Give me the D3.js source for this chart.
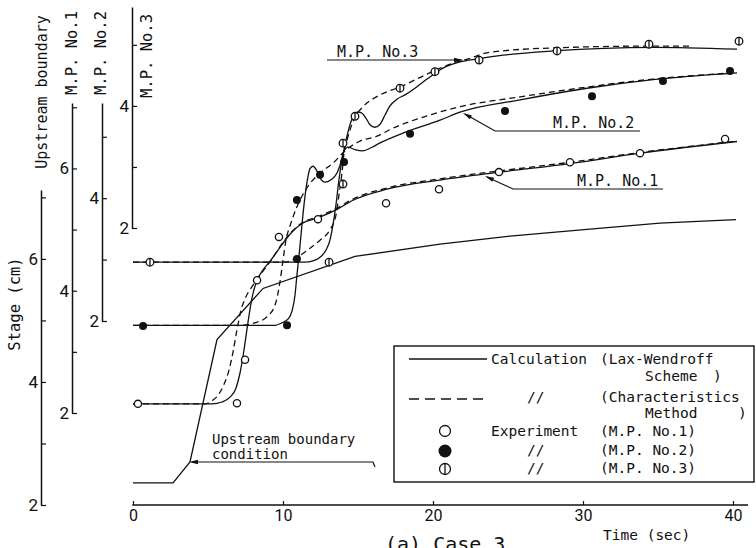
<!DOCTYPE html>
<html><head><meta charset="utf-8">
<script src="https://cdn.jsdelivr.net/npm/d3@7"></script>
<style>
html,body{margin:0;padding:0;background:#fff;}
svg{display:block;}
.mono{font-family:"DejaVu Sans Mono","Liberation Mono",monospace;fill:#111;}
.tick text{font-family:Roboto,"DejaVu Sans",sans-serif;fill:#111;}
</style></head><body>
<svg id="chart" width="756" height="548"></svg>
<script>
// ---------- data ----------
const timeTicks = [0, 10, 20, 30, 40];
const upTicks = [2, 3, 4, 5, 6, 7], upLabels = [2, 4, 6];
const mp1Ticks = [2, 3, 4, 5, 6, 7], mp1Labels = [2, 4, 6];
const mp2Ticks = [2, 3, 4, 5], mp2Labels = [2, 4];
const mp3Ticks = [2, 3, 4, 5], mp3Labels = [2, 4];

// Upstream boundary condition (Lax-Wendroff calc), [time s, stage cm]
const upstreamCalc = [[0,2.36],[2.67,2.36],[3.8,2.70],[5.6,4.69],[8.67,5.52],[14.8,6.04],[20.47,6.24],[25.13,6.37],[30.27,6.48],[35.13,6.58],[40.2,6.64]];

// M.P. No.1
const mp1Lax = [[0,2.15],[5.27,2.15],[5.93,2.18],[6.47,2.26],[6.87,2.41],[7.13,2.65],[7.4,3.03],[7.67,3.49],[7.93,3.88],[8.27,4.17],[8.67,4.34],[9.13,4.48],[9.8,4.71],[10.6,4.96],[11.27,5.10],[12.33,5.19],[13.6,5.33],[14.67,5.48],[16.93,5.66],[20.47,5.81],[24.47,5.94],[29.13,6.08],[33.8,6.25],[40.27,6.44]];
const mp1Char = [[0,2.15],[4.8,2.15],[5.27,2.20],[5.67,2.29],[6.07,2.47],[6.4,2.70],[6.67,3.00],[6.93,3.36],[7.2,3.68],[7.53,3.90],[8.0,4.09],[8.6,4.30],[9.27,4.52],[9.8,4.72],[10.6,4.97],[11.27,5.11],[12.33,5.21],[13.6,5.35],[14.67,5.50],[16.93,5.68],[20.47,5.83],[24.47,5.96],[29.13,6.10],[33.8,6.26],[40.0,6.44]];
const mp1Exp = [[0.33,2.15],[6.93,2.16],[7.47,2.87],[8.27,4.17],[9.73,4.88],[12.33,5.17],[16.87,5.43],[20.4,5.66],[24.4,5.94],[29.13,6.10],[33.8,6.25],[39.47,6.48]];

// M.P. No.2
const mp2Lax = [[0,1.93],[9.47,1.93],[9.93,1.97],[10.33,2.03],[10.6,2.16],[10.8,2.42],[10.93,2.75],[11.07,3.07],[11.2,3.40],[11.4,3.89],[11.6,4.26],[11.8,4.48],[12.0,4.52],[12.27,4.44],[12.47,4.33],[12.8,4.26],[13.2,4.30],[13.6,4.41],[13.87,4.59],[14.07,4.77],[14.33,4.83],[14.8,4.79],[15.33,4.77],[15.93,4.83],[16.47,4.90],[18.0,5.06],[20.47,5.27],[21.8,5.40],[25.8,5.60],[30.27,5.79],[34.67,5.93],[40.27,6.04]];
const mp2Char = [[0,1.93],[7.13,1.93],[8.13,1.97],[8.93,2.07],[9.47,2.26],[9.8,2.64],[10.0,2.99],[10.2,3.32],[10.47,3.55],[10.93,3.86],[11.6,4.17],[12.47,4.41],[13.33,4.57],[14.13,4.77],[15.13,4.93],[16.27,5.01],[17.33,5.14],[19.6,5.34],[21.8,5.49],[25.8,5.65],[30.27,5.81],[34.67,5.94],[40.0,6.04]];
const mp2Exp = [[0.67,1.92],[10.27,1.93],[10.93,3.01],[10.93,3.97],[12.47,4.38],[14.07,4.59],[18.47,5.05],[24.8,5.42],[30.6,5.66],[35.33,5.91],[39.8,6.07]];

// M.P. No.3
const mp3Lax = [[0,1.44],[11.47,1.44],[12.0,1.46],[12.47,1.52],[12.87,1.64],[13.13,1.80],[13.33,2.05],[13.53,2.38],[13.73,2.79],[13.93,3.11],[14.13,3.36],[14.33,3.57],[14.53,3.74],[14.73,3.85],[15.0,3.90],[15.27,3.88],[15.53,3.80],[15.8,3.69],[16.13,3.65],[16.47,3.70],[16.8,3.85],[17.13,4.00],[17.6,4.11],[18.13,4.18],[18.8,4.29],[19.6,4.44],[20.67,4.62],[21.8,4.72],[23.0,4.77],[24.67,4.83],[28.0,4.90],[34.67,4.96],[40.27,4.93]];
const mp3Char = [[0,1.44],[10.13,1.44],[10.93,1.52],[11.8,1.67],[12.47,1.80],[13.13,1.97],[13.53,2.21],[13.73,2.54],[13.93,2.90],[14.07,3.23],[14.27,3.44],[14.47,3.61],[14.8,3.82],[15.27,3.97],[16.47,4.18],[17.8,4.31],[19.6,4.52],[21.33,4.70],[22.47,4.78],[23.6,4.87],[28.0,4.95],[34.67,4.98],[37.13,4.98]];
const mp3Exp = [[1.13,1.44],[13.07,1.44],[14.0,2.72],[14.0,3.39],[14.8,3.83],[17.8,4.29],[20.13,4.56],[23.07,4.75],[28.27,4.90],[34.4,5.01],[40.4,5.06]];

// ---------- scales ----------
const svg = d3.select("#chart");
const x = d3.scaleLinear().domain([0, 40]).range([133, 733]);
const yUp = d3.scaleLinear().domain([2, 7.12]).range([505, 190]);
const y1 = d3.scaleLinear().domain([2, 7.07]).range([413, 103]);
const y2 = d3.scaleLinear().domain([2, 5.55]).range([321, 103]);
const y3 = d3.scaleLinear().domain([2, 5.62]).range([228, 7]);

const ink = "#111";

// ---------- y axes ----------
function yAxis(scale, xpos, ticks, labels) {
  const g = svg.append("g").attr("transform", `translate(${xpos},0)`)
    .call(d3.axisLeft(scale).tickValues(ticks).tickSize(-5).tickSizeOuter(0).tickPadding(3)
      .tickFormat(d => labels.includes(d) ? d : ""));
  g.select(".domain").attr("stroke", ink).attr("stroke-width", 1.5);
  g.selectAll(".tick line").attr("stroke", ink).attr("stroke-width", 1.2);
  g.selectAll(".tick text").attr("font-size", 17);
}
yAxis(yUp, 41, upTicks, upLabels);
yAxis(y1, 72, mp1Ticks, mp1Labels);
yAxis(y2, 102, mp2Ticks, mp2Labels);
yAxis(y3, 132, mp3Ticks, mp3Labels);

// axis titles (rotated)
function vlabel(txt, cx, cy, size) {
  svg.append("text").attr("class", "mono")
    .attr("transform", `translate(${cx},${cy}) rotate(-90)`)
    .attr("text-anchor", "middle").attr("dominant-baseline", "central")
    .attr("font-size", size).text(txt);
}
vlabel("Upstream boundary", 42, 92, 15);
vlabel("M.P. No.1", 72, 53, 15.5);
vlabel("M.P. No.2", 101, 53, 15.5);
vlabel("M.P. No.3", 147, 56, 15.5);
vlabel("Stage (cm)", 15, 304, 15.5);

// ---------- x axis ----------
const xg = svg.append("g").attr("transform", "translate(0,505)")
  .call(d3.axisBottom(x).tickValues(timeTicks).tickSize(-4).tickSizeOuter(0).tickPadding(5));
xg.select(".domain").remove();
xg.selectAll(".tick line").attr("stroke", ink).attr("stroke-width", 1.2);
xg.selectAll(".tick text").attr("font-size", 16);
svg.append("line").attr("x1", x(-0.05)).attr("x2", x(41)).attr("y1", 505).attr("y2", 505)
  .attr("stroke", ink).attr("stroke-width", 1.3);
svg.append("text").attr("class", "mono").attr("x", 603).attr("y", 540).attr("font-size", 14.5).text("Time (sec)");
svg.append("text").attr("class", "mono").attr("x", 385).attr("y", 551).attr("font-size", 20).text("(a) Case 3");

// ---------- lines ----------
function drawLine(data, ys, dashed, curve) {
  const line = d3.line().x(d => x(d[0])).y(d => ys(d[1])).curve(curve || d3.curveMonotoneX);
  svg.append("path").datum(data).attr("d", line)
    .attr("fill", "none").attr("stroke", ink).attr("stroke-width", 1.3)
    .attr("stroke-dasharray", dashed ? "6,4" : null);
}
drawLine(upstreamCalc, yUp, false, d3.curveLinear);
drawLine(mp1Char, y1, true);
drawLine(mp1Lax, y1, false);
drawLine(mp2Char, y2, true);
drawLine(mp2Lax, y2, false);
drawLine(mp3Char, y3, true);
drawLine(mp3Lax, y3, false);

// ---------- markers ----------
function openMark(g, cx, cy, r) {
  g.append("circle").attr("cx", cx).attr("cy", cy).attr("r", r)
    .attr("fill", "#fff").attr("stroke", ink).attr("stroke-width", 1.3);
}
function fillMark(g, cx, cy, r) {
  g.append("circle").attr("cx", cx).attr("cy", cy).attr("r", r).attr("fill", ink);
}
function phiMark(g, cx, cy, r) {
  openMark(g, cx, cy, r);
  g.append("line").attr("x1", cx).attr("x2", cx).attr("y1", cy - r).attr("y2", cy + r)
    .attr("stroke", ink).attr("stroke-width", 1.3);
}
const mk = svg.append("g");
mp1Exp.forEach(d => openMark(mk, x(d[0]), y1(d[1]), 3.6));
mp2Exp.forEach(d => fillMark(mk, x(d[0]), y2(d[1]), 4));
mp3Exp.forEach(d => phiMark(mk, x(d[0]), y3(d[1]), 3.8));

// ---------- annotations ----------
function arrowHead(tipX, tipY, fromX, fromY, len, w) {
  const a = Math.atan2(tipY - fromY, tipX - fromX);
  const bx = tipX - len * Math.cos(a), by = tipY - len * Math.sin(a);
  const px = -Math.sin(a) * w, py = Math.cos(a) * w;
  svg.append("path").attr("d", `M${tipX},${tipY}L${bx + px},${by + py}L${bx - px},${by - py}Z`).attr("fill", ink);
}
function pl(pts) {
  svg.append("path").attr("d", d3.line()(pts)).attr("fill", "none").attr("stroke", ink).attr("stroke-width", 1.2);
}
// M.P. No.3
svg.append("text").attr("class", "mono").attr("x", 337).attr("y", 57).attr("font-size", 15).text("M.P. No.3");
pl([[327, 60], [462, 60]]);
arrowHead(463, 60, 440, 60, 9, 2.2);
// M.P. No.2
svg.append("text").attr("class", "mono").attr("x", 553).attr("y", 128).attr("font-size", 15).text("M.P. No.2");
pl([[640, 131], [495, 131], [465, 114]]);
arrowHead(463, 113, 495, 131, 9, 2.2);
// M.P. No.1
svg.append("text").attr("class", "mono").attr("x", 577).attr("y", 186).attr("font-size", 15).text("M.P. No.1");
pl([[663, 189], [513, 189], [487, 177]]);
arrowHead(485, 176, 513, 189, 9, 2.2);
// Upstream boundary condition
svg.append("text").attr("class", "mono").attr("x", 212).attr("y", 444).attr("font-size", 14).text("Upstream boundary");
svg.append("text").attr("class", "mono").attr("x", 212).attr("y", 459).attr("font-size", 14).text("condition");
pl([[192, 462], [373, 462], [375, 467]]);
arrowHead(189, 462, 210, 462, 9, 2.2);

// ---------- legend ----------
const lg = svg.append("g");
lg.append("rect").attr("x", 394).attr("y", 346).attr("width", 360).attr("height", 136)
  .attr("fill", "#fff").attr("stroke", ink).attr("stroke-width", 1.4);
lg.append("line").attr("x1", 409).attr("x2", 487).attr("y1", 359).attr("y2", 359).attr("stroke", ink).attr("stroke-width", 1.5);
lg.append("line").attr("x1", 409).attr("x2", 487).attr("y1", 399).attr("y2", 399).attr("stroke", ink).attr("stroke-width", 1.5).attr("stroke-dasharray", "10,6");
openMark(lg, 445, 431, 5.5);
fillMark(lg, 445, 451, 6.5);
phiMark(lg, 445, 469, 5.5);
const legendText = [
  [491, 364, "Calculation"], [600, 364, "(Lax-Wendroff"],
  [645, 381, "Scheme"], [713, 381, ")"],
  [527, 402, "//"], [600, 402, "(Characteristics"],
  [645, 418, "Method"], [738, 418, ")"],
  [491, 436, "Experiment"], [600, 436, "(M.P. No.1)"],
  [527, 455, "//"], [600, 455, "(M.P. No.2)"],
  [527, 473, "//"], [600, 473, "(M.P. No.3)"]
];
legendText.forEach(d => lg.append("text").attr("class", "mono").attr("x", d[0]).attr("y", d[1]).attr("font-size", 14.5).text(d[2]));
</script>
</body></html>
